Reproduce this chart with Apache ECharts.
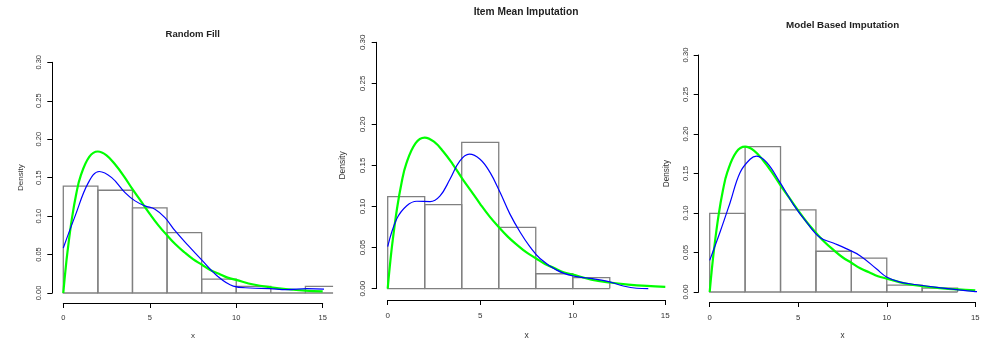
<!DOCTYPE html>
<html><head><meta charset="utf-8">
<script src="https://cdn.jsdelivr.net/npm/echarts@6/dist/echarts.min.js"></script>
<style>html,body{margin:0;padding:0;background:#fff}#c{width:997px;height:345px}</style>
</head><body><div id="c"></div>
<script>
// ---------- data ----------
const panelTitles = ['Random Fill', 'Item Mean Imputation', 'Model Based Imputation'];
const xTickLabels = ['0', '5', '10', '15'];
const yTickLabels = ['0.00', '0.05', '0.10', '0.15', '0.20', '0.25', '0.30'];
const binStarts = [0, 2, 4, 6, 8, 10, 12, 14];
const binWidth = 2;

const randomFillHist = [0.139, 0.1336, 0.1108, 0.0784, 0.018, 0.0086, 0.0, 0.0086];
const itemMeanHist   = [0.112, 0.1024, 0.178, 0.0746, 0.0181, 0.0133];
const modelBasedHist = [0.0995, 0.184, 0.104, 0.0516, 0.0428, 0.0086, 0.005];

const randomFillDensX = [0, 0.68, 1.45, 2.08, 2.8, 3.57, 4.15, 4.72, 5.3, 5.88, 6.46, 7.23, 8.0, 8.87, 9.83, 10.8, 11.95, 12.9, 14.1, 15.6];
const randomFillDensY = [0.0586, 0.100, 0.1435, 0.158, 0.150, 0.1306, 0.1198, 0.1133, 0.109, 0.098, 0.081, 0.0616, 0.043, 0.0228, 0.009, 0.0065, 0.0056, 0.0043, 0.0056, 0.0043];

const itemMeanDensX = [0, 0.49, 1.03, 1.57, 2.29, 2.83, 3.37, 3.9, 4.41, 4.99, 5.53, 6.07, 6.6, 7.15, 7.69, 8.23, 9.13, 10.03, 10.93, 11.83, 12.73, 13.45, 14.08];
const itemMeanDensY = [0.051, 0.085, 0.101, 0.1064, 0.106, 0.113, 0.1334, 0.1556, 0.1637, 0.1576, 0.1415, 0.1173, 0.091, 0.069, 0.0508, 0.0367, 0.0225, 0.0153, 0.0125, 0.0092, 0.0032, 0.0004, 0.0];

const modelBasedDensX = [0, 0.58, 1.15, 1.71, 2.28, 2.65, 3.22, 3.97, 4.72, 5.48, 6.23, 6.98, 7.74, 8.49, 9.43, 9.99, 10.75, 11.69, 12.82, 13.95, 14.88, 15.64];
const modelBasedDensY = [0.040, 0.0756, 0.113, 0.151, 0.168, 0.172, 0.164, 0.1387, 0.111, 0.088, 0.069, 0.062, 0.0546, 0.046, 0.029, 0.019, 0.0126, 0.0092, 0.0058, 0.0029, 0.0008, 0.0];

const trueDensX = [0, 0.1, 0.25, 0.5, 0.75, 1, 1.5, 2, 2.5, 3, 3.5, 4, 4.5, 5, 5.5, 6, 6.5, 7, 7.5, 8, 8.5, 9, 9.5, 10, 11, 12, 13, 14, 15];
const trueDensY = [0, 0.024, 0.055, 0.097, 0.129, 0.152, 0.177, 0.184, 0.179, 0.167, 0.152, 0.135, 0.119, 0.103, 0.088, 0.075, 0.063, 0.053, 0.044, 0.037, 0.030, 0.025, 0.020, 0.017, 0.011, 0.0074, 0.0049, 0.0032, 0.0021];

// ---------- layout ----------
const FONT = 'Liberation Sans, Arial, sans-serif';
const plotXMax = 15.6; // right edge of the plotting region (clip)
const layout = [
  {left: 63.3, top: 62.3, width: 259.4, height: 232, xOff: 10, yOff: 11, fs: 7.5, xMargin: 11, yMargin: 9, xNameGap: 29, yNameGap: 27.5, titleX: 192.7, titleY: 34, titleFs: 9.5},
  {left: 387.7, top: 42.3, width: 277.6, height: 248, xOff: 11.4, yOff: 11, fs: 8, xMargin: 11.5, yMargin: 10.4, xNameGap: 31, yNameGap: 30, titleX: 526, titleY: 11.7, titleFs: 10.2},
  {left: 709.7, top: 55, width: 265.6, height: 238.3, xOff: 10, yOff: 11, fs: 7.7, xMargin: 12, yMargin: 8.4, xNameGap: 30, yNameGap: 28, titleX: 842.7, titleY: 25.7, titleFs: 9.8}
];
const hists = [randomFillHist, itemMeanHist, modelBasedHist];
const densX = [randomFillDensX, itemMeanDensX, modelBasedDensX];
const densY = [randomFillDensY, itemMeanDensY, modelBasedDensY];

const zip = (xs, ys) => xs.map((x, i) => [x, ys[i]]);

const grids = [], xAxes = [], yAxes = [], series = [], titles = [];
layout.forEach((L, i) => {
  grids.push({left: L.left, top: L.top, width: L.width, height: L.height, containLabel: false});
  xAxes.push({
    type: 'value', gridIndex: i, min: 0, max: 15, interval: 5, offset: L.xOff,
    name: 'x', nameLocation: 'middle', nameGap: L.xNameGap,
    nameTextStyle: {fontFamily: FONT, fontSize: L.fs + 0.5, color: '#333'},
    axisLine: {show: true, onZero: false, lineStyle: {color: '#000', width: 1}},
    axisTick: {show: true, length: 5, lineStyle: {color: '#000', width: 1}},
    axisLabel: {fontFamily: FONT, fontSize: L.fs, color: '#333', margin: L.xMargin,
      showMinLabel: true, showMaxLabel: true,
      formatter: v => xTickLabels[Math.round(v / 5)]},
    splitLine: {show: false}
  });
  yAxes.push({
    type: 'value', gridIndex: i, min: 0, max: 0.3, interval: 0.05, offset: L.yOff,
    name: 'Density', nameLocation: 'middle', nameGap: L.yNameGap, nameRotate: 90,
    nameTextStyle: {fontFamily: FONT, fontSize: L.fs + 0.5, color: '#333'},
    axisLine: {show: true, onZero: false, lineStyle: {color: '#000', width: 1}},
    axisTick: {show: true, length: 5, lineStyle: {color: '#000', width: 1}},
    axisLabel: {fontFamily: FONT, fontSize: L.fs, color: '#333', margin: L.yMargin, rotate: 90,
      showMinLabel: true, showMaxLabel: true,
      formatter: v => yTickLabels[Math.round(v / 0.05)]},
    splitLine: {show: false}
  });
  titles.push({
    text: panelTitles[i], left: L.titleX, top: L.titleY - (L.titleFs + 2) / 2, textAlign: 'center', padding: 0,
    textStyle: {fontFamily: FONT, fontSize: L.titleFs, fontWeight: 'bold', color: '#222', lineHeight: L.titleFs + 2}
  });
  series.push({
    type: 'custom', xAxisIndex: i, yAxisIndex: i, clip: false, silent: true, z: 1,
    data: hists[i].map((h, k) => [binStarts[k], binStarts[k] + binWidth, h]),
    encode: {x: [0, 1], y: 2},
    renderItem: (params, api) => {
      const x0 = api.value(0), x1raw = api.value(1), h = api.value(2);
      const x1 = Math.min(x1raw, plotXMax);
      const a = api.coord([x0, 0]), b = api.coord([x0, h]), c = api.coord([x1, h]), d = api.coord([x1, 0]);
      const pts = x1raw > plotXMax ? [d, a, b, c] : [d, a, b, c, d];
      return {type: 'polyline', shape: {points: pts}, style: {fill: null, stroke: '#808080', lineWidth: 1.3}};
    }
  });
  series.push({
    type: 'line', xAxisIndex: i, yAxisIndex: i, clip: false, silent: true, z: 3,
    data: zip(trueDensX, trueDensY), showSymbol: false, smooth: 0.4,
    lineStyle: {color: '#00ff00', width: 2.2}
  });
  series.push({
    type: 'line', xAxisIndex: i, yAxisIndex: i, clip: false, silent: true, z: 4,
    data: zip(densX[i], densY[i]), showSymbol: false, smooth: 0.4,
    lineStyle: {color: '#0000ff', width: 1.2}
  });
});

const chart = echarts.init(document.getElementById('c'), null, {renderer: 'canvas'});
chart.setOption({
  animation: false, backgroundColor: '#fff',
  title: titles, grid: grids, xAxis: xAxes, yAxis: yAxes, series: series
});
</script></body></html>
